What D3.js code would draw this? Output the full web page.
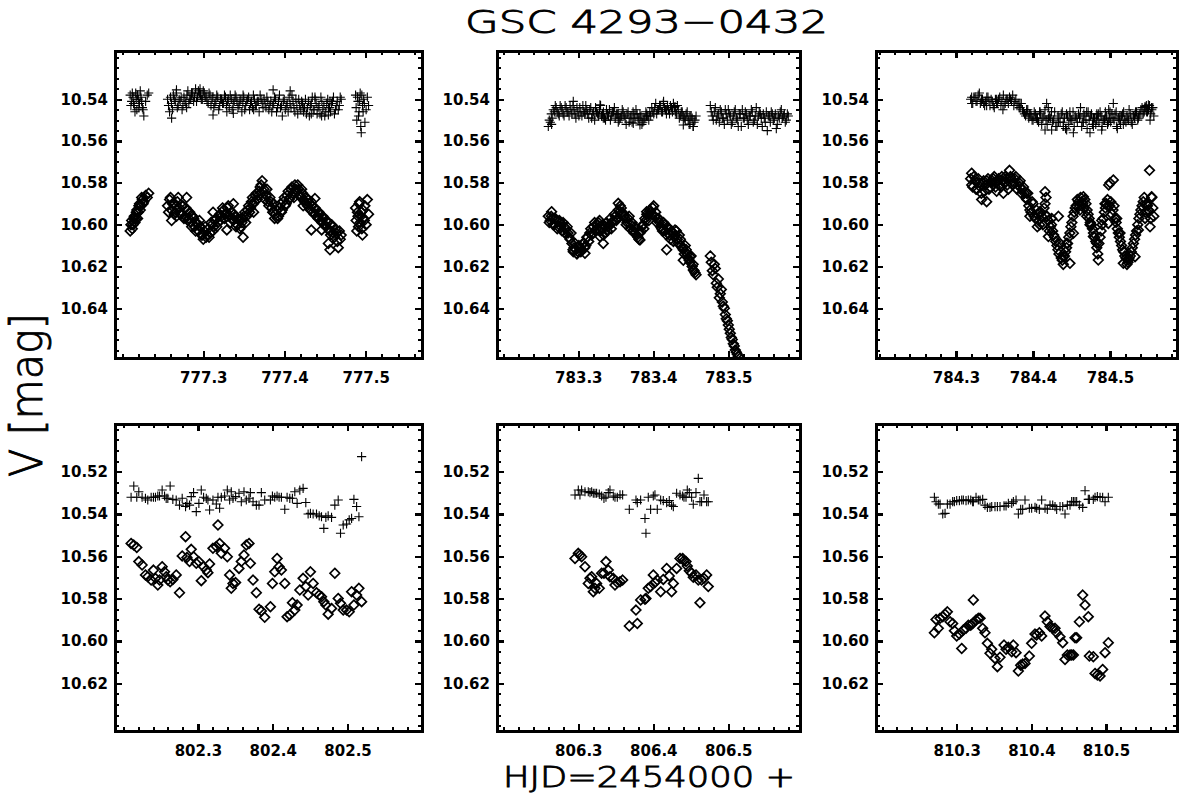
<!DOCTYPE html>
<html>
<head>
<meta charset="utf-8">
<script src="https://cdn.jsdelivr.net/npm/d3@7"></script>
<style>
  body { margin: 0; background: #fff; }
  svg { display: block; }
</style>
</head>
<body>
<div id="chart"></div>
<script>
// axis ranges and tick values per panel (HJD - 2454000, V mag)
const hjdRange = [
  [777.1913, 777.5693], [783.1916, 783.5956], [784.1961, 784.5870],
  [802.1892, 802.5995], [806.1916, 806.5956], [810.1919, 810.5951]
];
const hjdTicks = [
  [777.3, 777.4, 777.5], [783.3, 783.4, 783.5], [784.3, 784.4, 784.5],
  [802.3, 802.4, 802.5], [806.3, 806.4, 806.5], [810.3, 810.4, 810.5]
];
const magRangeTop = [10.5169, 10.6638];
const magRangeBottom = [10.4975, 10.6425];
const magTicksTop = [10.54, 10.56, 10.58, 10.60, 10.62, 10.64];
const magTicksBottom = [10.52, 10.54, 10.56, 10.58, 10.60, 10.62];

// night 777
const hjd777 = [
  777.2100, 777.2118, 777.2135, 777.2150, 777.2168, 777.2182, 777.2200, 777.2215, 777.2232, 777.2250, 777.2268, 777.2290, 777.2310, 777.2328,
  777.2560, 777.2585, 777.2608, 777.2632, 777.2655, 777.2680, 777.2703, 777.2728, 777.2750, 777.2775,
  777.2798, 777.2822, 777.2845, 777.2870, 777.2893, 777.2917, 777.2940, 777.2965, 777.2988, 777.3012,
  777.3035, 777.3060, 777.3083, 777.3107, 777.3130, 777.3155, 777.3178, 777.3202, 777.3225, 777.3250,
  777.3273, 777.3297, 777.3320, 777.3345, 777.3368, 777.3392, 777.3415, 777.3440, 777.3463, 777.3487,
  777.3510, 777.3535, 777.3558, 777.3582, 777.3605, 777.3630, 777.3653, 777.3677, 777.3700, 777.3725,
  777.3748, 777.3772, 777.3795, 777.3820, 777.3843, 777.3867, 777.3890, 777.3915, 777.3938, 777.3962,
  777.3985, 777.4010, 777.4033, 777.4057, 777.4080, 777.4105, 777.4128, 777.4152, 777.4175, 777.4200,
  777.4223, 777.4247, 777.4270, 777.4295, 777.4318, 777.4342, 777.4365, 777.4390, 777.4413, 777.4437,
  777.4460, 777.4485, 777.4508, 777.4532, 777.4555, 777.4580, 777.4603, 777.4627, 777.4650, 777.4675, 777.4698,
  777.4875, 777.4890, 777.4905, 777.4918, 777.4932, 777.4945, 777.4960, 777.4975, 777.4990, 777.5005, 777.5020, 777.5035,
  777.2109, 777.2126, 777.2142, 777.2159, 777.2175, 777.2191, 777.2207, 777.2224, 777.2241, 777.2259,
  777.2572, 777.2596, 777.2620, 777.2643, 777.2667, 777.2691, 777.2715, 777.2739, 777.2762, 777.2786,
  777.2810, 777.2833, 777.2857, 777.2881, 777.2905, 777.2928, 777.2952, 777.2976, 777.3000, 777.3023,
  777.3047, 777.3071, 777.3095, 777.3118, 777.3142, 777.3166, 777.3190, 777.3213, 777.3237, 777.3261,
  777.3285, 777.3308, 777.3332, 777.3356, 777.3380, 777.3403, 777.3427, 777.3451, 777.3475, 777.3498,
  777.3522, 777.3546, 777.3570, 777.3593, 777.3617, 777.3641, 777.3665, 777.3688, 777.3712, 777.3736,
  777.3760, 777.3783, 777.3807, 777.3831, 777.3855, 777.3878, 777.3902, 777.3926, 777.3950, 777.3973,
  777.3997, 777.4021, 777.4045, 777.4068, 777.4092, 777.4116, 777.4140, 777.4163, 777.4187, 777.4211,
  777.4235, 777.4258, 777.4282, 777.4306, 777.4330, 777.4353, 777.4377, 777.4401, 777.4425, 777.4448,
  777.4472, 777.4496, 777.4520, 777.4543, 777.4567, 777.4591, 777.4615, 777.4638, 777.4662, 777.4686,
  777.4882, 777.4898, 777.4911, 777.4925, 777.4939, 777.4952, 777.4968, 777.4983,
  777.2610, 777.2670, 777.2795, 777.2856, 777.2960, 777.3120, 777.3290, 777.3370, 777.3490, 777.3620,
  777.3860, 777.4070, 777.4230, 777.4330, 777.4375, 777.4457, 777.4540, 777.4560
];
const var777 = [
  10.603, 10.598, 10.600, 10.596, 10.597, 10.593, 10.594, 10.590, 10.591, 10.588, 10.589, 10.586, 10.587, 10.585,
  10.591, 10.588, 10.593, 10.590, 10.594, 10.589, 10.592, 10.595, 10.591, 10.596,
  10.593, 10.597, 10.599, 10.596, 10.601, 10.599, 10.603, 10.601, 10.605, 10.603,
  10.606, 10.602, 10.604, 10.600, 10.601, 10.597, 10.599, 10.595, 10.596, 10.593,
  10.595, 10.592, 10.596, 10.594, 10.598, 10.596, 10.600, 10.598, 10.601, 10.597,
  10.594, 10.596, 10.591, 10.592, 10.587, 10.589, 10.585, 10.586, 10.582, 10.579,
  10.583, 10.586, 10.589, 10.587, 10.592, 10.590, 10.595, 10.597, 10.592, 10.594,
  10.589, 10.591, 10.586, 10.588, 10.583, 10.585, 10.581, 10.584, 10.583, 10.587,
  10.585, 10.589, 10.590, 10.588, 10.593, 10.591, 10.595, 10.593, 10.597, 10.595,
  10.599, 10.597, 10.601, 10.599, 10.603, 10.600, 10.604, 10.602, 10.608, 10.603, 10.605,
  10.592, 10.603, 10.596, 10.590, 10.599, 10.594, 10.605, 10.597, 10.591, 10.600, 10.588, 10.595,
  10.600, 10.602, 10.597, 10.599, 10.594, 10.597, 10.591, 10.593, 10.587, 10.590,
  10.594, 10.587, 10.590, 10.595, 10.591, 10.587, 10.595, 10.591, 10.597, 10.592,
  10.598, 10.594, 10.601, 10.597, 10.603, 10.600, 10.598, 10.605, 10.607, 10.601,
  10.605, 10.606, 10.599, 10.603, 10.598, 10.601, 10.596, 10.598, 10.592, 10.597,
  10.594, 10.591, 10.599, 10.597, 10.595, 10.601, 10.597, 10.602, 10.599, 10.596,
  10.599, 10.593, 10.594, 10.589, 10.590, 10.586, 10.588, 10.584, 10.581, 10.584,
  10.588, 10.583, 10.591, 10.589, 10.594, 10.597, 10.593, 10.596, 10.590, 10.593,
  10.587, 10.590, 10.584, 10.587, 10.582, 10.587, 10.583, 10.581, 10.586, 10.583,
  10.588, 10.587, 10.591, 10.590, 10.589, 10.594, 10.592, 10.596, 10.594, 10.598,
  10.596, 10.600, 10.598, 10.602, 10.605, 10.601, 10.606, 10.604, 10.611, 10.607,
  10.598, 10.594, 10.601, 10.589, 10.596, 10.602, 10.593, 10.598,
  10.598, 10.596, 10.587, 10.5955, 10.601, 10.594, 10.6025, 10.590, 10.606, 10.594,
  10.594, 10.587, 10.591, 10.6025, 10.5875, 10.6025, 10.609, 10.612
];
const cmp777 = [
  10.538, 10.541, 10.539, 10.543, 10.537, 10.545, 10.540, 10.542, 10.539, 10.544, 10.548, 10.541, 10.538, 10.537,
  10.540, 10.546, 10.542, 10.538, 10.541, 10.544, 10.540, 10.539, 10.543, 10.541,
  10.538, 10.542, 10.540, 10.537, 10.539, 10.541, 10.536, 10.538, 10.540, 10.537,
  10.539, 10.542, 10.538, 10.540, 10.544, 10.541, 10.539, 10.543, 10.540, 10.542,
  10.539, 10.541, 10.544, 10.540, 10.542, 10.538, 10.541, 10.543, 10.540, 10.542,
  10.545, 10.541, 10.539, 10.542, 10.544, 10.540, 10.543, 10.541, 10.538, 10.542,
  10.540, 10.544, 10.541, 10.543, 10.546, 10.542, 10.540, 10.544, 10.538, 10.543,
  10.541, 10.545, 10.542, 10.539, 10.544, 10.541, 10.546, 10.543, 10.540, 10.545,
  10.542, 10.544, 10.547, 10.541, 10.543, 10.539, 10.545, 10.542, 10.544, 10.547,
  10.541, 10.543, 10.546, 10.540, 10.544, 10.542, 10.539, 10.545, 10.541, 10.543, 10.540,
  10.538, 10.550, 10.541, 10.546, 10.537, 10.556, 10.543, 10.540, 10.551, 10.545, 10.539, 10.543,
  10.543, 10.537, 10.542, 10.546, 10.540, 10.538, 10.544, 10.536, 10.541, 10.545,
  10.543, 10.539, 10.545, 10.540, 10.537, 10.543, 10.541, 10.545, 10.539, 10.542,
  10.536, 10.540, 10.538, 10.541, 10.535, 10.539, 10.537, 10.540, 10.536, 10.539,
  10.541, 10.537, 10.543, 10.539, 10.542, 10.538, 10.545, 10.540, 10.542, 10.538,
  10.543, 10.540, 10.538, 10.545, 10.541, 10.539, 10.544, 10.541, 10.546, 10.539,
  10.543, 10.540, 10.545, 10.541, 10.538, 10.543, 10.541, 10.546, 10.540, 10.544,
  10.542, 10.539, 10.545, 10.541, 10.543, 10.539, 10.546, 10.541, 10.544, 10.548,
  10.540, 10.543, 10.546, 10.542, 10.538, 10.544, 10.540, 10.547, 10.543, 10.541,
  10.546, 10.540, 10.544, 10.548, 10.542, 10.545, 10.540, 10.547, 10.543, 10.539,
  10.545, 10.548, 10.542, 10.544, 10.546, 10.541, 10.547, 10.543, 10.545, 10.539,
  10.544, 10.539, 10.548, 10.541, 10.553, 10.538, 10.546, 10.542,
  10.549, 10.5355, 10.544, 10.537, 10.535, 10.5475, 10.546, 10.5467, 10.538, 10.545,
  10.5355, 10.536, 10.544, 10.547, 10.539, 10.548, 10.5475, 10.541
];

// night 783
const hjd783 = [
  783.2600, 783.2627, 783.2652, 783.2680, 783.2705, 783.2733, 783.2758, 783.2785, 783.2810, 783.2838,
  783.2863, 783.2890, 783.2915, 783.2943, 783.2968, 783.2995, 783.3020, 783.3048, 783.3073, 783.3100,
  783.3125, 783.3153, 783.3178, 783.3205, 783.3230, 783.3258, 783.3283, 783.3310, 783.3335, 783.3363,
  783.3388, 783.3415, 783.3440, 783.3468, 783.3493, 783.3520, 783.3545, 783.3573, 783.3598, 783.3625,
  783.3650, 783.3678, 783.3703, 783.3730, 783.3755, 783.3783, 783.3808, 783.3835, 783.3860, 783.3888,
  783.3913, 783.3940, 783.3965, 783.3993, 783.4018, 783.4045, 783.4070, 783.4098, 783.4123, 783.4150,
  783.4175, 783.4203, 783.4228, 783.4255, 783.4280, 783.4308, 783.4333, 783.4360, 783.4385, 783.4413,
  783.4438, 783.4465, 783.4490, 783.4518, 783.4543, 783.4570,
  783.4760, 783.4787, 783.4813, 783.4840, 783.4867, 783.4893, 783.4920, 783.4947, 783.4973, 783.5000,
  783.5027, 783.5053, 783.5080, 783.5107, 783.5133, 783.5160, 783.5187, 783.5213, 783.5240, 783.5267,
  783.5293, 783.5320, 783.5347, 783.5373, 783.5400, 783.5427, 783.5453, 783.5480, 783.5507, 783.5533,
  783.5560, 783.5587, 783.5613, 783.5640, 783.5667, 783.5693, 783.5720, 783.5747, 783.5773, 783.5800,
  783.2613, 783.2640, 783.2666, 783.2693, 783.2719, 783.2746, 783.2772, 783.2798, 783.2824, 783.2851,
  783.2877, 783.2903, 783.2929, 783.2956, 783.2982, 783.3008, 783.3034, 783.3061, 783.3087, 783.3113,
  783.3139, 783.3166, 783.3192, 783.3218, 783.3244, 783.3271, 783.3297, 783.3323, 783.3349, 783.3376,
  783.3402, 783.3428, 783.3454, 783.3481, 783.3507, 783.3533, 783.3559, 783.3586, 783.3612, 783.3638,
  783.3664, 783.3691, 783.3717, 783.3743, 783.3769, 783.3796, 783.3822, 783.3848, 783.3874, 783.3901,
  783.3927, 783.3953, 783.3979, 783.4006, 783.4032, 783.4058, 783.4084, 783.4111, 783.4137, 783.4163,
  783.4189, 783.4216, 783.4242, 783.4268, 783.4294, 783.4321, 783.4347, 783.4373, 783.4399, 783.4426,
  783.4452, 783.4478, 783.4504, 783.4531, 783.4556,
  783.4773, 783.4800, 783.4827, 783.4853, 783.4880, 783.4907, 783.4933, 783.4960, 783.4987, 783.5013,
  783.5040, 783.5067, 783.5093, 783.5120, 783.5147, 783.5173, 783.5200, 783.5227, 783.5253, 783.5280,
  783.5307, 783.5333, 783.5360, 783.5387, 783.5413, 783.5440, 783.5467, 783.5493, 783.5520, 783.5547,
  783.5573, 783.5600, 783.5627, 783.5653, 783.5680, 783.5707, 783.5733, 783.5760, 783.5787,
  783.2644, 783.2933, 783.3089, 783.3289, 783.3333, 783.3533, 783.3733, 783.3822, 783.3911, 783.4133,
  783.4178, 783.4289, 783.4400, 783.4489, 783.4533
];
const var783 = [
  10.596, 10.598, 10.597, 10.600, 10.598, 10.601, 10.599, 10.603, 10.601, 10.602,
  10.604, 10.607, 10.609, 10.611, 10.612, 10.613, 10.611, 10.612, 10.609, 10.610,
  10.606, 10.604, 10.605, 10.601, 10.603, 10.600, 10.598, 10.602, 10.605, 10.601,
  10.603, 10.600, 10.602, 10.598, 10.596, 10.597, 10.594, 10.592, 10.595, 10.597,
  10.599, 10.596, 10.600, 10.603, 10.601, 10.605, 10.607, 10.603, 10.600, 10.597,
  10.595, 10.598, 10.594, 10.592, 10.596, 10.599, 10.597, 10.601, 10.603, 10.600,
  10.605, 10.602, 10.607, 10.604, 10.606, 10.603, 10.609, 10.607, 10.611, 10.614,
  10.612, 10.616, 10.618, 10.620, 10.622, 10.624,
  10.615, 10.622, 10.619, 10.628, 10.626, 10.633, 10.637, 10.640, 10.645, 10.648,
  10.652, 10.655, 10.658, 10.661, 10.663, null, null, null, null, null,
  null, null, null, null, null, null, null, null, null, null,
  null, null, null, null, null, null, null, null, null, null,
  10.599, 10.596, 10.600, 10.597, 10.602, 10.598, 10.601, 10.599, 10.604, 10.601,
  10.606, 10.604, 10.612, 10.609, 10.614, 10.610, 10.613, 10.609, 10.611, 10.606,
  10.608, 10.602, 10.604, 10.599, 10.602, 10.599, 10.603, 10.600, 10.604, 10.599,
  10.601, 10.597, 10.599, 10.595, 10.598, 10.593, 10.591, 10.594, 10.596, 10.600,
  10.597, 10.602, 10.599, 10.604, 10.602, 10.606, 10.604, 10.601, 10.602, 10.598,
  10.596, 10.593, 10.595, 10.591, 10.594, 10.597, 10.599, 10.602, 10.599, 10.603,
  10.601, 10.605, 10.603, 10.608, 10.605, 10.607, 10.605, 10.610, 10.612, 10.610,
  10.614, 10.617, 10.615, 10.619, 10.623,
  10.618, 10.624, 10.621, 10.630, 10.635, 10.631, 10.639, 10.643, 10.646, 10.650,
  10.654, 10.657, 10.660, 10.662, null, null, null, null, null, null,
  null, null, null, null, null, null, null, null, null, null,
  null, null, null, null, null, null, null, null, null,
  10.5938, 10.6129, 10.6137, 10.6057, 10.609, 10.5898, 10.6025, 10.6073, 10.5938, 10.6025,
  10.612, 10.6025, 10.617, 10.6153, 10.6217
];
const cmp783 = [
  10.553, 10.551, 10.549, 10.546, 10.544, 10.547, 10.543, 10.545, 10.548, 10.544,
  10.546, 10.543, 10.547, 10.545, 10.549, 10.546, 10.544, 10.548, 10.546, 10.543,
  10.547, 10.545, 10.549, 10.546, 10.544, 10.547, 10.545, 10.548, 10.546, 10.550,
  10.547, 10.545, 10.548, 10.546, 10.549, 10.547, 10.550, 10.548, 10.546, 10.549,
  10.547, 10.551, 10.548, 10.546, 10.549, 10.547, 10.550, 10.548, 10.551, 10.549,
  10.547, 10.550, 10.548, 10.546, 10.544, 10.547, 10.545, 10.543, 10.546, 10.544,
  10.547, 10.545, 10.543, 10.546, 10.544, 10.547, 10.545, 10.548, 10.546, 10.549,
  10.547, 10.550, 10.552, 10.549, 10.551, 10.548,
  10.543, 10.548, 10.546, 10.550, 10.547, 10.545, 10.549, 10.552, 10.547, 10.545,
  10.548, 10.551, 10.546, 10.549, 10.553, 10.547, 10.545, 10.549, 10.547, 10.552,
  10.548, 10.546, 10.550, 10.544, 10.548, 10.547, 10.553, 10.549, 10.546, 10.548,
  10.551, 10.547, 10.549, 10.554, 10.548, 10.546, 10.549, 10.547, 10.550, 10.548,
  10.550, 10.547, 10.545, 10.543, 10.546, 10.548, 10.544, 10.547, 10.543, 10.546,
  10.548, 10.545, 10.543, 10.547, 10.544, 10.548, 10.546, 10.543, 10.547, 10.545,
  10.549, 10.544, 10.547, 10.550, 10.546, 10.548, 10.543, 10.547, 10.549, 10.545,
  10.548, 10.550, 10.546, 10.544, 10.547, 10.551, 10.549, 10.545, 10.548, 10.552,
  10.546, 10.549, 10.551, 10.547, 10.545, 10.549, 10.547, 10.552, 10.550, 10.546,
  10.548, 10.546, 10.544, 10.547, 10.542, 10.545, 10.543, 10.546, 10.541, 10.545,
  10.543, 10.547, 10.544, 10.542, 10.546, 10.543, 10.549, 10.546, 10.548, 10.550,
  10.546, 10.552, 10.548, 10.553, 10.550,
  10.546, 10.550, 10.544, 10.548, 10.551, 10.546, 10.549, 10.545, 10.550, 10.547,
  10.552, 10.548, 10.545, 10.550, 10.547, 10.553, 10.549, 10.546, 10.550, 10.548,
  10.545, 10.551, 10.548, 10.552, 10.546, 10.549, 10.547, 10.551, 10.555, 10.548,
  10.546, 10.550, 10.547, 10.552, 10.549, 10.545, 10.548, 10.551, 10.547,
  10.552, 10.541, 10.546, 10.5427, 10.549, 10.547, 10.5515, 10.5523, 10.548, 10.542,
  10.545, 10.5435, 10.5523, 10.548, 10.553
];

// night 784
const hjd784 = [
  784.3190, 784.3217, 784.3247, 784.3273, 784.3303, 784.3329, 784.3359, 784.3385, 784.3415, 784.3441,
  784.3471, 784.3497, 784.3527, 784.3553, 784.3583, 784.3609, 784.3639, 784.3665, 784.3695, 784.3721,
  784.3751, 784.3777, 784.3807, 784.3833, 784.3863, 784.3889, 784.3919, 784.3945, 784.3975, 784.4001,
  784.4031, 784.4057, 784.4087, 784.4113, 784.4143, 784.4169, 784.4199, 784.4225, 784.4255, 784.4281,
  784.4311, 784.4337, 784.4367, 784.4393, 784.4423, 784.4449, 784.4479, 784.4505, 784.4535, 784.4561,
  784.4591, 784.4617, 784.4647, 784.4673, 784.4703, 784.4729, 784.4759, 784.4785, 784.4815, 784.4841,
  784.4871, 784.4897, 784.4927, 784.4953, 784.4983, 784.5009, 784.5039, 784.5065, 784.5095, 784.5121,
  784.5151, 784.5177, 784.5207, 784.5233, 784.5263, 784.5289, 784.5319, 784.5345, 784.5375, 784.5401,
  784.5431, 784.5457, 784.5487, 784.5513, 784.5543, 784.5569,
  784.3204, 784.3232, 784.3260, 784.3288, 784.3316, 784.3344, 784.3372, 784.3400, 784.3428, 784.3456,
  784.3484, 784.3512, 784.3540, 784.3568, 784.3596, 784.3624, 784.3652, 784.3680, 784.3708, 784.3736,
  784.3764, 784.3792, 784.3820, 784.3848, 784.3876, 784.3904, 784.3932, 784.3960, 784.3988, 784.4016,
  784.4044, 784.4072, 784.4100, 784.4128, 784.4156, 784.4184, 784.4212, 784.4240, 784.4268, 784.4296,
  784.4324, 784.4352, 784.4380, 784.4408, 784.4436, 784.4464, 784.4492, 784.4520, 784.4548, 784.4576,
  784.4604, 784.4632, 784.4660, 784.4688, 784.4716, 784.4744, 784.4772, 784.4800, 784.4828, 784.4856,
  784.4884, 784.4912, 784.4940, 784.4968, 784.4996, 784.5024, 784.5052, 784.5080, 784.5108, 784.5136,
  784.5164, 784.5192, 784.5220, 784.5248, 784.5276, 784.5304, 784.5332, 784.5360, 784.5388, 784.5416,
  784.5444, 784.5472, 784.5500, 784.5528, 784.5556,
  784.3203, 784.3333, 784.3398, 784.3528, 784.3615, 784.3830, 784.3918, 784.3960, 784.4056, 784.4090,
  784.4156, 784.4177, 784.4242, 784.4200, 784.4330, 784.4394, 784.4480, 784.4437, 784.4524, 784.4610,
  784.4654, 784.4697, 784.4740, 784.4784, 784.4827, 784.4848, 784.4892, 784.4935, 784.5000, 784.5043,
  784.4978, 784.5087, 784.5130, 784.5238, 784.5173, 784.5325, 784.5368, 784.5455, 784.5498, 784.5520,
  784.5476, 784.5540
];
const var784 = [
  10.578, 10.582, 10.579, 10.583, 10.580, 10.585, 10.579, 10.581, 10.578, 10.582,
  10.579, 10.577, 10.580, 10.578, 10.582, 10.579, 10.577, 10.581, 10.574, 10.578,
  10.580, 10.577, 10.581, 10.579, 10.583, 10.585, 10.588, 10.591, 10.594, 10.590,
  10.597, 10.595, 10.600, 10.596, 10.592, 10.587, 10.598, 10.601, 10.603, 10.606,
  10.610, 10.614, 10.616, 10.619, 10.613, 10.609, 10.604, 10.599, 10.594, 10.591,
  10.589, 10.587, 10.590, 10.588, 10.593, 10.597, 10.600, 10.604, 10.608, 10.614,
  10.606, 10.600, 10.594, 10.590, 10.581, 10.589, 10.593, 10.597, 10.602, 10.606,
  10.610, 10.613, 10.616, 10.618, 10.615, 10.611, 10.607, 10.603, 10.597, 10.593,
  10.589, 10.594, 10.591, 10.574, 10.587, 10.596,
  10.581, 10.577, 10.583, 10.578, 10.582, 10.580, 10.584, 10.579, 10.583, 10.580,
  10.578, 10.582, 10.579, 10.581, 10.577, 10.580, 10.578, 10.583, 10.577, 10.581,
  10.578, 10.583, 10.580, 10.585, 10.582, 10.587, 10.585, 10.593, 10.589, 10.596,
  10.593, 10.598, 10.594, 10.600, 10.590, 10.596, 10.603, 10.600, 10.605, 10.608,
  10.612, 10.609, 10.617, 10.615, 10.611, 10.606, 10.601, 10.596, 10.592, 10.588,
  10.591, 10.589, 10.592, 10.590, 10.595, 10.599, 10.602, 10.606, 10.611, 10.609,
  10.603, 10.597, 10.592, 10.588, 10.591, 10.595, 10.591, 10.599, 10.604, 10.608,
  10.612, 10.615, 10.619, 10.616, 10.613, 10.609, 10.605, 10.600, 10.595, 10.591,
  10.587, 10.590, 10.593, 10.597, 10.592,
  10.5754, 10.588, 10.589, 10.584, 10.585, 10.582, 10.585, 10.596, 10.601, 10.5938,
  10.5842, 10.5961, 10.597, 10.6057, 10.596, 10.6153, 10.6185, 10.6089, 10.6041, 10.593,
  10.5866, 10.596, 10.600, 10.6057, 10.6089, 10.6169, 10.598, 10.590, 10.580, 10.5786,
  10.5994, 10.597, 10.604, 10.6169, 10.6185, 10.6153, 10.6025, 10.597, 10.593, 10.601,
  10.590, 10.5866
];
const cmp784 = [
  10.540, 10.542, 10.539, 10.541, 10.537, 10.540, 10.542, 10.541, 10.539, 10.543,
  10.541, 10.544, 10.542, 10.540, 10.543, 10.545, 10.542, 10.540, 10.539, 10.541,
  10.543, 10.540, 10.542, 10.544, 10.545, 10.547, 10.546, 10.549, 10.548, 10.550,
  10.547, 10.549, 10.546, 10.552, 10.548, 10.550, 10.544, 10.549, 10.551, 10.546,
  10.553, 10.549, 10.547, 10.551, 10.554, 10.548, 10.546, 10.550, 10.553, 10.549,
  10.547, 10.544, 10.551, 10.548, 10.554, 10.550, 10.547, 10.549, 10.552, 10.548,
  10.546, 10.553, 10.550, 10.548, 10.545, 10.551, 10.549, 10.547, 10.554, 10.550,
  10.548, 10.546, 10.551, 10.549, 10.547, 10.552, 10.549, 10.546, 10.548, 10.545,
  10.547, 10.544, 10.546, 10.543, 10.545, 10.548,
  10.542, 10.539, 10.541, 10.538, 10.542, 10.540, 10.543, 10.539, 10.541, 10.540,
  10.543, 10.540, 10.542, 10.539, 10.541, 10.543, 10.540, 10.542, 10.540, 10.538,
  10.541, 10.543, 10.544, 10.542, 10.546, 10.548, 10.545, 10.547, 10.550, 10.546,
  10.549, 10.551, 10.547, 10.549, 10.545, 10.552, 10.548, 10.546, 10.550, 10.553,
  10.548, 10.551, 10.546, 10.549, 10.547, 10.552, 10.550, 10.546, 10.548, 10.551,
  10.549, 10.553, 10.547, 10.550, 10.546, 10.548, 10.552, 10.549, 10.547, 10.551,
  10.548, 10.550, 10.546, 10.552, 10.549, 10.547, 10.550, 10.546, 10.549, 10.552,
  10.547, 10.550, 10.548, 10.545, 10.551, 10.548, 10.546, 10.550, 10.547, 10.544,
  10.546, 10.543, 10.545, 10.547, 10.544,
  10.539, 10.541, 10.543, 10.540, 10.538, 10.542, 10.545, 10.547, 10.550, 10.546,
  10.5547, 10.542, 10.5547, 10.549, 10.551, 10.553, 10.549, 10.5547, 10.556, 10.548,
  10.551, 10.546, 10.556, 10.553, 10.550, 10.547, 10.5547, 10.549, 10.546, 10.542,
  10.551, 10.553, 10.548, 10.550, 10.552, 10.547, 10.549, 10.5435, 10.5427, 10.550,
  10.546, 10.544
];

// night 802
const hjd802 = [
  802.2107, 802.2143, 802.2183, 802.2210, 802.2254, 802.2299, 802.2330, 802.2375, 802.2406, 802.2433,
  802.2464, 802.2487, 802.2522, 802.2554, 802.2576, 802.2598, 802.2629, 802.2665, 802.2710, 802.2754,
  802.2790, 802.2835, 802.2853, 802.2888, 802.2911, 802.2942, 802.2978, 802.3013, 802.3045, 802.3076,
  802.3112, 802.3134, 802.3156, 802.3201, 802.3246, 802.3268, 802.3290, 802.3313, 802.3357, 802.3393,
  802.3424, 802.3446, 802.3469, 802.3504, 802.3549, 802.3580, 802.3616, 802.3647, 802.3683, 802.3701,
  802.3737, 802.3781, 802.3817, 802.3848, 802.3893, 802.3969, 802.3996, 802.4027, 802.4058, 802.4085,
  802.4116, 802.4161, 802.4192, 802.4228, 802.4263, 802.4295, 802.4326, 802.4362, 802.4406, 802.4442,
  802.4473, 802.4504, 802.4540, 802.4585, 802.4621, 802.4652, 802.4683, 802.4710, 802.4741, 802.4786,
  802.4830, 802.4875, 802.4906, 802.4942, 802.4987, 802.5022, 802.5054, 802.5085, 802.5121, 802.5152,
  802.5188
];
const var802 = [
  10.5539, 10.5547, 10.5558, 10.5625, 10.5641, 10.5688, 10.5696, 10.5712, 10.5665, 10.5704,
  10.5736, 10.5712, 10.5649, 10.5673, 10.5696, 10.5712, 10.5720, 10.5709, 10.5688, 10.5772,
  10.5598, 10.5507, 10.5605, 10.5625, 10.5567, 10.5602, 10.5633, 10.5625, 10.5715, 10.5649,
  10.5665, 10.5677, 10.5636, 10.5562, 10.5554, 10.5452, 10.5539, 10.5586, 10.5562, 10.5602,
  10.5688, 10.5751, 10.5728, 10.5724, 10.5657, 10.5625, 10.5594, 10.5547, 10.5539, 10.5633,
  10.5712, 10.5772, 10.5850, 10.5858, 10.5888, 10.5838, 10.5728, 10.5673, 10.5610, 10.5649,
  10.5665, 10.5728, 10.5885, 10.5877, 10.5819, 10.5854, 10.5830, 10.5759, 10.5704, 10.5743,
  10.5783, 10.5673, 10.5728, 10.5772, 10.5783, 10.5791, 10.5814, 10.5830, 10.5873, 10.5846,
  10.5680, 10.5799, 10.5822, 10.5854, 10.5854, 10.5862, 10.5767, 10.5830, 10.5783, 10.5751,
  10.5814
];
const cmp802 = [
  10.5321, 10.5268, 10.5321, 10.5295, 10.5321, 10.5326, 10.5334, 10.5321, 10.5321, 10.5321,
  10.5315, 10.5315, 10.5287, 10.5315, 10.5326, 10.5326, 10.5268, 10.5331, 10.5334, 10.5358,
  10.5326, 10.5365, 10.5350, 10.5358, 10.5318, 10.5299, 10.5389, 10.5350, 10.5287, 10.5321,
  10.5326, 10.5334, 10.5381, 10.5334, 10.5353, 10.5321, 10.5373, 10.5321, 10.5315, 10.5287,
  10.5334, 10.5295, 10.5326, 10.5318, 10.5302, 10.5342, 10.5295, 10.5334, 10.5326, 10.5299,
  10.5342, 10.5358, 10.5358, 10.5299, 10.5334, 10.5334, 10.5315, 10.5321, 10.5315, 10.5321,
  10.5321, 10.5378, 10.5321, 10.5326, 10.5326, 10.5295, 10.5350, 10.5287, 10.5279, 10.5346,
  10.5400, 10.5397, 10.5400, 10.5400, 10.5409, 10.5413, 10.5468, 10.5416, 10.5409, 10.5416,
  10.5358, 10.5334, 10.5491, 10.5452, 10.5447, 10.5428, 10.5421, 10.5331, 10.5365, 10.5413,
  10.5129
];

// night 806
const hjd806 = [
  806.2956, 806.3000, 806.3022, 806.3044, 806.3089, 806.3133, 806.3156, 806.3178, 806.3200, 806.3222,
  806.3244, 806.3280, 806.3311, 806.3342, 806.3369, 806.3400, 806.3422, 806.3467, 806.3489, 806.3520,
  806.3556, 806.3591, 806.3680, 806.3769, 806.3787, 806.3831, 806.3889, 806.3902, 806.3933, 806.3964,
  806.4000, 806.4022, 806.4053, 806.4098, 806.4133, 806.4178, 806.4213, 806.4244, 806.4267, 806.4311,
  806.4356, 806.4391, 806.4409, 806.4436, 806.4453, 806.4480, 806.4511, 806.4533, 806.4569, 806.4600,
  806.4622, 806.4644, 806.4676, 806.4711, 806.4733
];
const var806 = [
  10.5610, 10.5586, 10.5594, 10.5602, 10.5649, 10.5728, 10.5704, 10.5696, 10.5767, 10.5751,
  10.5728, 10.5751, 10.5680, 10.5680, 10.5625, 10.5665, 10.5696, 10.5704, 10.5736, 10.5724,
  10.5720, 10.5712, 10.5929, 10.5854, 10.5917, 10.5806, 10.5803, 10.5799, 10.5751, 10.5743,
  10.5688, 10.5724, 10.5712, 10.5767, 10.5709, 10.5657, 10.5693, 10.5767, 10.5728, 10.5657,
  10.5610, 10.5610, 10.5621, 10.5625, 10.5646, 10.5668, 10.5680, 10.5699, 10.5688, 10.5712,
  10.5819, 10.5712, 10.5704, 10.5688, 10.5743
];
const cmp806 = [
  10.5310, 10.5287, 10.5310, 10.5287, 10.5295, 10.5295, 10.5299, 10.5295, 10.5302, 10.5302,
  10.5302, 10.5306, 10.5315, 10.5326, 10.5321, 10.5299, 10.5287, 10.5315, 10.5321, 10.5321,
  10.5310, 10.5310, 10.5378, 10.5334, 10.5346, 10.5334, 10.5421, 10.5491, 10.5321, 10.5378,
  10.5315, 10.5310, 10.5378, 10.5334, 10.5337, 10.5346, 10.5337, 10.5358, 10.5365, 10.5302,
  10.5310, 10.5315, 10.5321, 10.5321, 10.5287, 10.5299, 10.5321, 10.5354, 10.5299, 10.5232,
  10.5342, 10.5342, 10.5310, 10.5342, 10.5342
];

// night 810
const hjd810 = [
  810.2701, 810.2723, 810.2754, 810.2777, 810.2813, 810.2844, 810.2875, 810.2911, 810.2946, 810.2969,
  810.3000, 810.3036, 810.3067, 810.3089, 810.3125, 810.3156, 810.3188, 810.3214, 810.3223, 810.3259,
  810.3290, 810.3313, 810.3348, 810.3379, 810.3411, 810.3446, 810.3469, 810.3513, 810.3545, 810.3580,
  810.3634, 810.3661, 810.3692, 810.3737, 810.3759, 810.3795, 810.3826, 810.3857, 810.3884, 810.3915,
  810.3973, 810.4004, 810.4049, 810.4071, 810.4107, 810.4138, 810.4183, 810.4214, 810.4250, 810.4286,
  810.4317, 810.4339, 810.4384, 810.4420, 810.4451, 810.4482, 810.4518, 810.4540, 810.4563, 810.4585,
  810.4607, 810.4643, 810.4688, 810.4719, 810.4763, 810.4777, 810.4830, 810.4853, 810.4884, 810.4920,
  810.4955, 810.4987, 810.5031
];
const var810 = [
  10.5961, 10.5898, 10.5940, 10.5893, 10.5885, 10.5873, 10.5862, 10.5909, 10.5917, 10.5951,
  10.5976, 10.5967, 10.6035, 10.5948, 10.5940, 10.5925, 10.5925, 10.5917, 10.5806, 10.5901,
  10.5893, 10.5893, 10.5940, 10.5961, 10.6011, 10.6058, 10.6039, 10.6082, 10.6121, 10.6077,
  10.6019, 10.6039, 10.6030, 10.6051, 10.6019, 10.6055, 10.6142, 10.6114, 10.6109, 10.6106,
  10.6071, 10.6011, 10.5967, 10.5972, 10.5961, 10.5976, 10.5882, 10.5909, 10.5932, 10.5940,
  10.5940, 10.5961, 10.5980, 10.6008, 10.6087, 10.6066, 10.6066, 10.6066, 10.6066, 10.5984,
  10.5984, 10.5909, 10.5783, 10.5830, 10.5885, 10.6071, 10.6074, 10.6153, 10.6161, 10.6165,
  10.6134, 10.6055, 10.6008
];
const cmp810 = [
  10.5321, 10.5342, 10.5353, 10.5353, 10.5400, 10.5397, 10.5353, 10.5353, 10.5342, 10.5342,
  10.5337, 10.5337, 10.5334, 10.5334, 10.5337, 10.5334, 10.5334, 10.5342, 10.5342, 10.5321,
  10.5334, 10.5334, 10.5331, 10.5358, 10.5369, 10.5369, 10.5365, 10.5365, 10.5365, 10.5365,
  10.5362, 10.5362, 10.5350, 10.5350, 10.5342, 10.5334, 10.5400, 10.5378, 10.5378, 10.5334,
  10.5373, 10.5373, 10.5369, 10.5373, 10.5378, 10.5334, 10.5373, 10.5378, 10.5358, 10.5358,
  10.5365, 10.5378, 10.5365, 10.5365, 10.5400, 10.5358, 10.5358, 10.5342, 10.5342, 10.5342,
  10.5342, 10.5358, 10.5369, 10.5290, 10.5331, 10.5331, 10.5331, 10.5321, 10.5318, 10.5321,
  10.5321, 10.5342, 10.5321
];

const width = 1180;
const height = 798;
const cols = [[115, 422], [497, 800], [876, 1177]];
const rows = [[51, 358], [424, 731]];

const panels = [
  { hjd: hjd777, cmp: cmp777, vmag: var777, yDomain: magRangeTop, yTicks: magTicksTop },
  { hjd: hjd783, cmp: cmp783, vmag: var783, yDomain: magRangeTop, yTicks: magTicksTop },
  { hjd: hjd784, cmp: cmp784, vmag: var784, yDomain: magRangeTop, yTicks: magTicksTop },
  { hjd: hjd802, cmp: cmp802, vmag: var802, yDomain: magRangeBottom, yTicks: magTicksBottom },
  { hjd: hjd806, cmp: cmp806, vmag: var806, yDomain: magRangeBottom, yTicks: magTicksBottom },
  { hjd: hjd810, cmp: cmp810, vmag: var810, yDomain: magRangeBottom, yTicks: magTicksBottom }
];

const plusPath = "M-4.6,0H4.6M0,-4.6V4.6";
const diamondPath = "M0,-4.8L4.8,0L0,4.8L-4.8,0Z";

const svg = d3.select("#chart")
  .append("svg")
  .attr("width", width)
  .attr("height", height);

svg.append("rect").attr("width", width).attr("height", height).attr("fill", "#fff");

function minorValues(domain, step, majors) {
  const lo = Math.min(domain[0], domain[1]);
  const hi = Math.max(domain[0], domain[1]);
  const out = [];
  for (let k = Math.ceil(lo / step - 1e-6); k * step <= hi + 1e-9; k++) {
    const v = k * step;
    if (!majors.some(m => Math.abs(m - v) < step / 10)) out.push(v);
  }
  return out;
}

function styleAxis(sel, lineWidth) {
  sel.select(".domain").remove();
  sel.selectAll("line")
    .attr("stroke-width", lineWidth)
    .attr("shape-rendering", "crispEdges");
  sel.attr("font-family", "'DejaVu Sans', sans-serif")
    .attr("font-size", 15)
    .attr("font-weight", "bold");
}

panels.forEach((p, i) => {
  const [x0, x1] = cols[i % 3];
  const [y0, y1] = rows[Math.floor(i / 3)];

  const x = d3.scaleLinear().domain(hjdRange[i]).range([x0, x1]);
  const y = d3.scaleLinear().domain(p.yDomain).range([y0, y1]);

  const g = svg.append("g");

  g.append("clipPath")
    .attr("id", `clip${i}`)
    .append("rect")
    .attr("x", x0)
    .attr("y", y0)
    .attr("width", x1 - x0)
    .attr("height", y1 - y0);

  const pts = g.append("g").attr("clip-path", `url(#clip${i})`);

  const cmpPts = p.hjd.map((t, k) => ({ t, m: p.cmp[k] })).filter(d => d.m != null);
  const varPts = p.hjd.map((t, k) => ({ t, m: p.vmag[k] })).filter(d => d.m != null);

  pts.selectAll(".cmp")
    .data(cmpPts)
    .enter()
    .append("path")
    .attr("class", "cmp")
    .attr("d", plusPath)
    .attr("transform", d => `translate(${x(d.t)},${y(d.m)})`)
    .attr("fill", "none")
    .attr("stroke", "#000")
    .attr("stroke-width", 1.1);

  pts.selectAll(".var")
    .data(varPts)
    .enter()
    .append("path")
    .attr("class", "var")
    .attr("d", diamondPath)
    .attr("transform", d => `translate(${x(d.t)},${y(d.m)})`)
    .attr("fill", "none")
    .attr("stroke", "#000")
    .attr("stroke-width", 1.7);

  const xMinor = minorValues(x.domain(), 0.02, hjdTicks[i]);
  const yMinor = minorValues(y.domain(), 0.005, p.yTicks);

  // minor ticks on all four sides
  g.append("g").attr("transform", `translate(0,${y1})`)
    .call(d3.axisBottom(x).tickValues(xMinor).tickSize(-4).tickFormat(""))
    .call(s => styleAxis(s, 2));
  g.append("g").attr("transform", `translate(0,${y0})`)
    .call(d3.axisTop(x).tickValues(xMinor).tickSize(-4).tickFormat(""))
    .call(s => styleAxis(s, 2));
  g.append("g").attr("transform", `translate(${x0},0)`)
    .call(d3.axisLeft(y).tickValues(yMinor).tickSize(-4).tickFormat(""))
    .call(s => styleAxis(s, 2));
  g.append("g").attr("transform", `translate(${x1},0)`)
    .call(d3.axisRight(y).tickValues(yMinor).tickSize(-4).tickFormat(""))
    .call(s => styleAxis(s, 2));

  // major ticks, labelled on bottom and left
  g.append("g").attr("transform", `translate(0,${y1})`)
    .call(d3.axisBottom(x).tickValues(hjdTicks[i]).tickSize(-7).tickPadding(14.6).tickFormat(d3.format(".1f")))
    .call(s => styleAxis(s, 2.2));
  g.append("g").attr("transform", `translate(0,${y0})`)
    .call(d3.axisTop(x).tickValues(hjdTicks[i]).tickSize(-7).tickFormat(""))
    .call(s => styleAxis(s, 2.2));
  g.append("g").attr("transform", `translate(${x0},0)`)
    .call(d3.axisLeft(y).tickValues(p.yTicks).tickSize(-7).tickPadding(7).tickFormat(d3.format(".2f")))
    .call(s => styleAxis(s, 2.2));
  g.append("g").attr("transform", `translate(${x1},0)`)
    .call(d3.axisRight(y).tickValues(p.yTicks).tickSize(-7).tickFormat(""))
    .call(s => styleAxis(s, 2.2));

  g.append("rect")
    .attr("x", x0)
    .attr("y", y0)
    .attr("width", x1 - x0)
    .attr("height", y1 - y0)
    .attr("fill", "none")
    .attr("stroke", "#000")
    .attr("stroke-width", 3)
    .attr("shape-rendering", "crispEdges");
});

// thin vector-style titles: light face with a slight outline
function titleText(sel) {
  sel.attr("font-family", "'DejaVu Sans', sans-serif")
    .attr("font-weight", 300)
    .attr("fill", "#000")
    .attr("stroke", "#000")
    .attr("stroke-width", 0.9)
    .attr("lengthAdjust", "spacingAndGlyphs");
}

svg.append("text")
  .attr("x", 465)
  .attr("y", 33)
  .attr("font-size", 32)
  .attr("textLength", 363)
  .call(titleText)
  .text("GSC 4293\u22120432");

svg.append("text")
  .attr("x", 503)
  .attr("y", 787)
  .attr("font-size", 29)
  .attr("textLength", 292)
  .call(titleText)
  .text("HJD=2454000  +");

svg.append("text")
  .attr("transform", "translate(42,477) rotate(-90)")
  .attr("font-size", 44)
  .attr("textLength", 164)
  .call(titleText)
  .text("V   [mag]");
</script>
</body>
</html>
